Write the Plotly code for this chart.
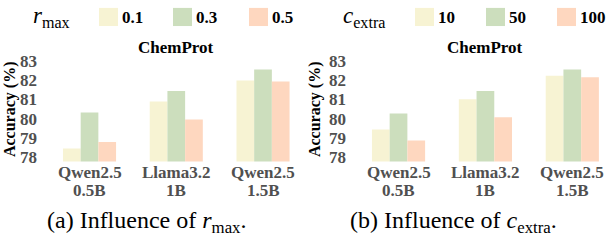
import plotly.graph_objects as go

W, H = 606, 240

cat_line1 = ["Qwen2.5", "Llama3.2", "Qwen2.5"]
cat_line2 = ["0.5B", "1B", "1.5B"]
categories = [a + " " + b for a, b in zip(cat_line1, cat_line2)]

# Panel (a): influence of r_max
r_labels = ["0.1", "0.3", "0.5"]
r_values = [
    [78.43, 80.90, 82.00],   # 0.1
    [80.32, 81.45, 82.57],   # 0.3
    [78.77, 79.95, 81.95],   # 0.5
]

# Panel (b): influence of c_extra
c_labels = ["10", "50", "100"]
c_values = [
    [79.43, 81.02, 82.25],   # 10
    [80.27, 81.45, 82.57],   # 50
    [78.85, 80.07, 82.17],   # 100
]

y_ticks = [78, 79, 80, 81, 82, 83]
colors = ["#F7F3D3", "#CCDEBD", "#FED7BF"]

FONT = "Liberation Serif"
GRAY = "#505050"


def px(x):
    return x / W


def py(y):
    return 1 - y / H


def b(t):
    return "<b>" + t + "</b>"


fig = go.Figure()

for i, (lab, vals) in enumerate(zip(r_labels, r_values)):
    fig.add_trace(go.Bar(x=categories, y=vals, name=lab, marker_color=colors[i],
                         marker_line_width=0, xaxis="x", yaxis="y",
                         offsetgroup=str(i), showlegend=False))
for i, (lab, vals) in enumerate(zip(c_labels, c_values)):
    fig.add_trace(go.Bar(x=categories, y=vals, name=lab, marker_color=colors[i],
                         marker_line_width=0, xaxis="x2", yaxis="y2",
                         offsetgroup=str(i), showlegend=False))

ydom = [py(163), py(55)]
yrange = [77.75, 83.15]

xaxis_common = dict(showgrid=False, zeroline=False, showline=False, ticks="",
                    showticklabels=False, type="category")
yaxis_common = dict(showgrid=False, zeroline=False, showline=False, ticks="",
                    tickvals=y_ticks, ticktext=[b(str(v)) for v in y_ticks],
                    range=yrange, domain=ydom,
                    tickfont=dict(family=FONT, size=17, color=GRAY))

fig.update_layout(
    width=W, height=H,
    margin=dict(l=0, r=0, t=0, b=0),
    font=dict(family=FONT),
    paper_bgcolor="white", plot_bgcolor="white",
    barmode="group", bargap=0.388, bargroupgap=0,
    xaxis=dict(domain=[px(38), px(303)], range=[-0.594, 2.461], anchor="y", **xaxis_common),
    yaxis=dict(anchor="x", **yaxis_common),
    xaxis2=dict(domain=[px(347), 1.0], range=[-0.593, 2.388], anchor="y2", **xaxis_common),
    yaxis2=dict(anchor="x2", **yaxis_common),
    showlegend=False,
)

ann = []
shapes = []

# category labels (two lines each), positioned on the category axes
for xr in ("x", "x2"):
    for c, l1, l2 in zip(categories, cat_line1, cat_line2):
        for txt, yy in ((l1, 175), (l2, 193)):
            ann.append(dict(x=c, xref=xr, y=py(yy), yref="paper", text=b(txt),
                            showarrow=False, xanchor="center", yanchor="middle",
                            font=dict(family=FONT, size=17, color=GRAY)))

# panel titles
for xc in (176, 485):
    ann.append(dict(x=px(xc), y=py(43), xref="paper", yref="paper", text=b("ChemProt"),
                    showarrow=False, xanchor="center", yanchor="middle",
                    font=dict(family=FONT, size=17, color="black")))
# y-axis titles
for xc in (10, 315):
    ann.append(dict(x=px(xc), y=py(108), xref="paper", yref="paper", text=b("Accuracy (%)"),
                    showarrow=False, xanchor="center", yanchor="middle", textangle=-90,
                    font=dict(family=FONT, size=16, color="black")))

# legends
legend_specs = [
    ("<i>r</i><sub>max</sub>", 31, r_labels, [99, 173, 249]),
    ("<i>c</i><sub>extra</sub>", 341, c_labels, [415, 486, 557]),
]
for title, tx, labs, sx in legend_specs:
    ann.append(dict(x=px(tx), y=py(12), xref="paper", yref="paper", text=title,
                    showarrow=False, xanchor="left", yanchor="middle",
                    font=dict(family=FONT, size=23, color="black")))
    for i, (lab, x0) in enumerate(zip(labs, sx)):
        shapes.append(dict(type="rect", xref="paper", yref="paper",
                           x0=px(x0), x1=px(x0 + 19), y0=py(21), y1=py(2),
                           fillcolor=colors[i], line=dict(width=0)))
        ann.append(dict(x=px(x0 + 21), y=py(12), xref="paper", yref="paper", text=b(lab),
                        showarrow=False, xanchor="left", yanchor="middle",
                        font=dict(family=FONT, size=17, color="black")))

# captions
for xc, txt in ((147, "(a) Influence of <i>r</i><sub>max</sub>."),
                (453, "(b) Influence of <i>c</i><sub>extra</sub>.")):
    ann.append(dict(x=px(xc), y=py(226), xref="paper", yref="paper", text=txt,
                    showarrow=False, xanchor="center", yanchor="middle",
                    font=dict(family=FONT, size=24, color="black")))

fig.update_layout(annotations=ann, shapes=shapes)
fig.write_html("out.html", config={"displayModeBar": False},
               post_script="document.body.style.margin='0';document.body.style.padding='0';")
